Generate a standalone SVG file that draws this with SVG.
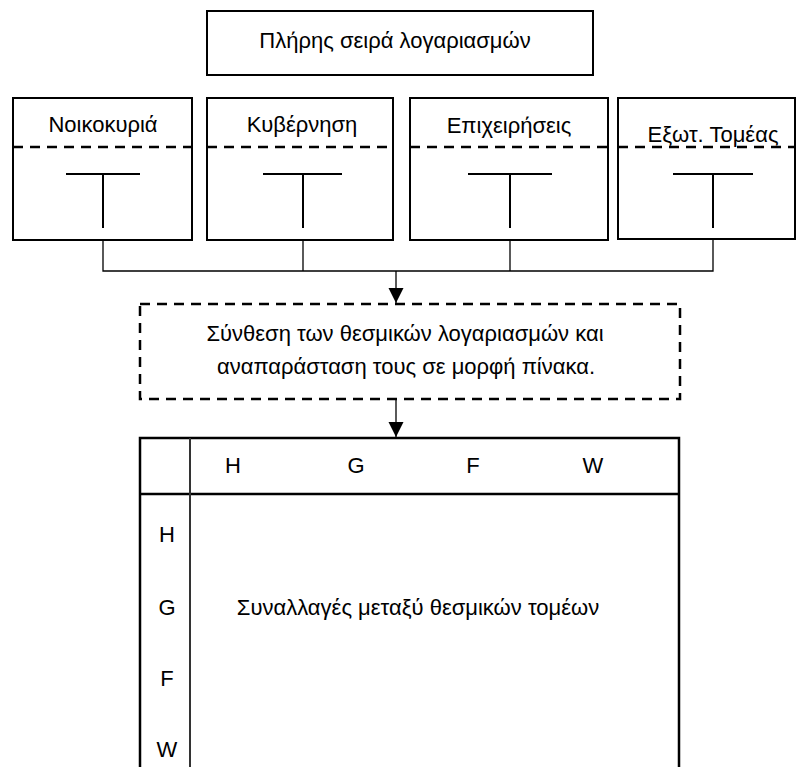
<svg xmlns="http://www.w3.org/2000/svg" width="797" height="767" viewBox="0 0 797 767">
<style>
text{font-family:"Liberation Sans",Arial,sans-serif;font-size:22px;fill:#000}
.box{fill:#fff;stroke:#000;stroke-width:2}
.dash{stroke:#000;stroke-width:2.5;stroke-dasharray:10 7;fill:none}
.t{stroke:#000;stroke-width:2;fill:none}
.conn{stroke:#000;stroke-width:1.3;fill:none}
.tbl{stroke:#000;stroke-width:2.5;fill:none}
</style>
<defs>
<marker id="arr" markerUnits="userSpaceOnUse" markerWidth="16" markerHeight="16" refX="15" refY="8" orient="auto" viewBox="0 0 16 16">
<path d="M0 0.5 L15 8 L0 15.5 Z" fill="#000"/>
</marker>
</defs>
<rect width="797" height="767" fill="#fff"/>
<g id="connectors">
<path class="conn" d="M103 240 V271 H713 V240"/>
<path class="conn" d="M303 240 V271"/>
<path class="conn" d="M510 240 V271"/>
<path class="conn" d="M396 271 V303" marker-end="url(#arr)"/>
<path class="conn" d="M396 400 V437" marker-end="url(#arr)"/>
</g>
<g id="full-accounts">
<rect class="box" x="207" y="11" width="386" height="64"/>
<text x="395" y="48" text-anchor="middle">Πλήρης σειρά λογαριασμών</text>
</g>
<g id="households">
<rect class="box" x="13" y="98" width="179" height="142"/>
<line class="dash" x1="13" y1="147" x2="192" y2="147"/>
<text x="103" y="132" text-anchor="middle">Νοικοκυριά</text>
<path class="t" d="M66 174 H140 M103 174 V228"/>
</g>
<g id="government">
<rect class="box" x="207" y="98" width="186" height="142"/>
<line class="dash" x1="207" y1="147" x2="393" y2="147"/>
<text x="302" y="132" text-anchor="middle">Κυβέρνηση</text>
<path class="t" d="M263 174 H342 M303 174 V228"/>
</g>
<g id="firms">
<rect class="box" x="410" y="98" width="198" height="142"/>
<line class="dash" x1="410" y1="147" x2="608" y2="147"/>
<text x="509" y="133" text-anchor="middle">Επιχειρήσεις</text>
<path class="t" d="M468 174 H552 M510 174 V228"/>
</g>
<g id="foreign">
<rect class="box" x="618" y="98" width="177" height="141"/>
<line class="dash" x1="618" y1="147" x2="795" y2="147"/>
<text x="713" y="142" text-anchor="middle">Εξωτ. Τομέας</text>
<path class="t" d="M673 174 H753 M713 174 V228"/>
</g>
<g id="synthesis">
<rect class="dash" x="140" y="304" width="540" height="95"/>
<text x="405" y="341" text-anchor="middle">Σύνθεση των θεσμικών λογαριασμών και</text>
<text x="406" y="374" text-anchor="middle">αναπαράσταση τους σε μορφή πίνακα.</text>
</g>
<g id="matrix">
<path class="tbl" d="M140 780 V438 H679 V780"/>
<line class="tbl" x1="140" y1="494" x2="679" y2="494"/>
<line x1="190" y1="438" x2="190" y2="780" stroke="#333" stroke-width="2"/>
<text x="233" y="473" text-anchor="middle">H</text>
<text x="356" y="473" text-anchor="middle">G</text>
<text x="473" y="473" text-anchor="middle">F</text>
<text x="593" y="473" text-anchor="middle">W</text>
<text x="167" y="542" text-anchor="middle">H</text>
<text x="167" y="615" text-anchor="middle">G</text>
<text x="167" y="686" text-anchor="middle">F</text>
<text x="167" y="757" text-anchor="middle">W</text>
<text x="418" y="615" text-anchor="middle">Συναλλαγές μεταξύ θεσμικών τομέων</text>
</g>
</svg>
